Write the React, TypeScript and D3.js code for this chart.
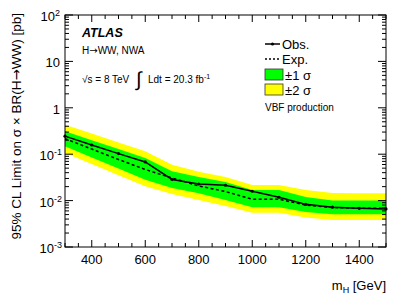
import * as d3 from "d3";

const masses = [300, 400, 500, 600, 700, 800, 900, 1000, 1100, 1200, 1300, 1400, 1500];
const observed = [0.245, 0.158, 0.103, 0.068, 0.0285, 0.0228, 0.0214, 0.0159, 0.0118, 0.0083, 0.0072, 0.0068, 0.0066];
const expected = [0.216, 0.129, 0.0769, 0.0468, 0.0307, 0.0207, 0.0157, 0.0107, 0.0107, 0.008, 0.0071, 0.0068, 0.0068];
const plus2 = [0.43, 0.278, 0.179, 0.116, 0.0594, 0.042, 0.0323, 0.0217, 0.0217, 0.0169, 0.0146, 0.0144, 0.0144];
const plus1 = [0.312, 0.2, 0.129, 0.0828, 0.0428, 0.0323, 0.0252, 0.0169, 0.0169, 0.012, 0.01, 0.01, 0.01];
const minus1 = [0.148, 0.0853, 0.049, 0.0282, 0.0187, 0.0144, 0.0103, 0.0072, 0.0072, 0.0057, 0.0051, 0.0051, 0.0051];
const minus2 = [0.106, 0.0612, 0.0352, 0.0203, 0.0139, 0.0103, 0.00765, 0.0055, 0.0055, 0.0043, 0.0038, 0.0038, 0.0038];

const xTickLabels = [400, 600, 800, 1000, 1200, 1400];
const yDecades = [1e-3, 1e-2, 1e-1, 1, 10, 100];

const width = 407;
const height = 295;
const margin = { top: 15, right: 21, bottom: 48, left: 65 };
const font = "'Liberation Sans', Arial, Helvetica, sans-serif";
const arrowFont = "'DejaVu Sans', sans-serif";

export default function App() {
  const x = d3.scaleLinear().domain([300, 1500]).range([margin.left, width - margin.right]);
  const y = d3.scaleLog().domain([1e-3, 100]).range([height - margin.bottom, margin.top]);

  const rows = masses.map((m, i) => ({
    m,
    obs: observed[i],
    exp: expected[i],
    p2: plus2[i],
    p1: plus1[i],
    m1: minus1[i],
    m2: minus2[i],
  }));

  const band = (lo: (d: any) => number, hi: (d: any) => number) =>
    d3.area<any>().x(d => x(d.m)).y0(d => y(lo(d))).y1(d => y(hi(d)))(rows) || "";

  const line = (f: (d: any) => number) =>
    d3.line<any>().x(d => x(d.m)).y(d => y(f(d)))(rows) || "";

  const x0 = margin.left;
  const x1 = width - margin.right;
  const y0 = height - margin.bottom;
  const y1 = margin.top;

  const xTicks = d3.range(300, 1501, 50);
  const yTicks = y.ticks();

  const isMajorY = (v: number) => Math.abs(Math.log10(v) - Math.round(Math.log10(v))) < 1e-6;

  const yLabel = (v: number) => {
    const e = Math.round(Math.log10(v));
    if (e === 0) return <tspan>1</tspan>;
    if (e === 1) return <tspan>10</tspan>;
    return (
      <>
        <tspan>10</tspan>
        <tspan fontSize={9} dy={-5}>{e}</tspan>
      </>
    );
  };

  return (
    <svg
      width={width}
      height={height}
      style={{ position: "absolute", left: 0, top: 0, background: "#fff" }}
      fontFamily={font}
    >
      <rect width={width} height={height} fill="#fff" />

      <path d={band(d => d.m2, d => d.p2)} fill="#ffff00" />
      <path d={band(d => d.m1, d => d.p1)} fill="#00ff00" />
      <path d={line(d => d.exp)} fill="none" stroke="#000" strokeWidth={1.5} strokeDasharray="3,2.5" />
      <path d={line(d => d.obs)} fill="none" stroke="#000" strokeWidth={1.5} />
      {rows.map(d => (
        <circle key={d.m} cx={x(d.m)} cy={y(d.obs)} r={1.6} fill="#000" />
      ))}

      {/* frame */}
      <rect x={x0} y={y1} width={x1 - x0} height={y0 - y1} fill="none" stroke="#000" strokeWidth={1} />

      {/* x ticks */}
      {xTicks.map(t => {
        const len = t % 200 === 0 ? 7 : 4;
        return (
          <g key={t}>
            <line x1={x(t)} x2={x(t)} y1={y0} y2={y0 - len} stroke="#000" />
            <line x1={x(t)} x2={x(t)} y1={y1} y2={y1 + len} stroke="#000" />
          </g>
        );
      })}
      {xTickLabels.map(t => (
        <text key={t} x={x(t)} y={264} textAnchor="middle" fontSize={13}>
          {t}
        </text>
      ))}

      {/* y ticks */}
      {yTicks.map((t, i) => {
        const len = isMajorY(t) ? 8 : 4;
        return (
          <g key={i}>
            <line x1={x0} x2={x0 + len} y1={y(t)} y2={y(t)} stroke="#000" />
            <line x1={x1} x2={x1 - len} y1={y(t)} y2={y(t)} stroke="#000" />
          </g>
        );
      })}
      {yDecades.map(v => (
        <text key={v} x={Math.log10(v) < 0 ? 62 : 60} y={y(v) + 6} textAnchor="end" fontSize={13}>
          {yLabel(v)}
        </text>
      ))}

      {/* axis titles */}
      <text transform="translate(21,13) rotate(-90)" textAnchor="end" fontSize={13.5}>
        95% CL Limit on σ × BR(H<tspan fontFamily={arrowFont}>→</tspan>WW) [pb]
      </text>
      <text x={386} y={290} textAnchor="end" fontSize={13}>
        m<tspan fontSize={9} dy={3}>H</tspan>
        <tspan dy={-3}> [GeV]</tspan>
      </text>

      {/* labels */}
      <text x={82} y={37} fontSize={12.5} fontWeight="bold" fontStyle="italic">
        ATLAS
      </text>
      <text x={82} y={54} fontSize={10}>
        H<tspan fontFamily={arrowFont}>→</tspan>WW, NWA
      </text>
      <text x={82} y={83} fontSize={10}>
        √s = 8 TeV
      </text>
      <text x={136} y={86} fontSize={20}>
        ∫
      </text>
      <text x={148} y={83} fontSize={10}>
        Ldt = 20.3 fb<tspan fontSize={7} dy={-4}>-1</tspan>
      </text>

      {/* legend */}
      <line x1={265} x2={280} y1={44} y2={44} stroke="#000" strokeWidth={1.5} />
      <circle cx={272.5} cy={44} r={1.6} fill="#000" />
      <text x={282} y={49} fontSize={13}>Obs.</text>
      <line x1={265} x2={280} y1={59} y2={59} stroke="#000" strokeWidth={1.5} strokeDasharray="2,2" />
      <text x={282} y={64} fontSize={13}>Exp.</text>
      <rect x={265} y={69} width={18} height={11} fill="#00ff00" stroke="#333" strokeWidth={0.8} />
      <text x={285} y={79.5} fontSize={13}>±1 σ</text>
      <rect x={265} y={84} width={18} height={11} fill="#ffff00" stroke="#333" strokeWidth={0.8} />
      <text x={285} y={94.5} fontSize={13}>±2 σ</text>
      <text x={265} y={111} fontSize={10}>VBF production</text>
    </svg>
  );
}
